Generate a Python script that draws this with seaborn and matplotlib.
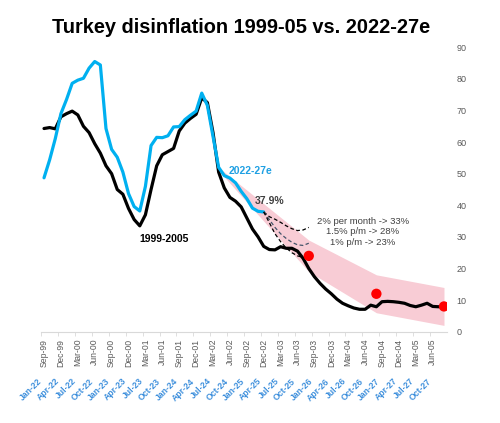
import numpy as np
import pandas as pd
import matplotlib
matplotlib.use("Agg")
import matplotlib.pyplot as plt
import matplotlib.transforms as mtransforms
import seaborn as sns

# month index 0 = Sep-99 (black) and Jan-22 (blue)
old_labels = ["Sep-99", "Dec-99", "Mar-00", "Jun-00", "Sep-00", "Dec-00", "Mar-01", "Jun-01",
              "Sep-01", "Dec-01", "Mar-02", "Jun-02", "Sep-02", "Dec-02", "Mar-03", "Jun-03",
              "Sep-03", "Dec-03", "Mar-04", "Jun-04", "Sep-04", "Dec-04", "Mar-05", "Jun-05"]
new_labels = ["Jan-22", "Apr-22", "Jul-22", "Oct-22", "Jan-23", "Apr-23", "Jul-23", "Oct-23",
              "Jan-24", "Apr-24", "Jul-24", "Oct-24", "Jan-25", "Apr-25", "Jul-25", "Oct-25",
              "Jan-26", "Apr-26", "Jul-26", "Oct-26", "Jan-27", "Apr-27", "Jul-27", "Oct-27"]

cpi_1999_05 = [64.3, 64.6, 64.2, 68.0, 69.0, 69.8, 68.6, 65.0, 63.0, 59.5, 56.5, 52.5,
               50.0, 45.0, 43.5, 39.0, 35.5, 33.5, 37.0, 45.0, 52.5, 56.0, 57.0, 58.0,
               63.5, 66.0, 67.5, 68.8, 74.0, 72.5, 63.0, 50.5, 45.5, 42.5, 41.3, 39.5,
               36.0, 32.5, 30.0, 27.0, 26.0, 25.9, 26.9, 26.4, 26.4, 25.5, 23.2, 20.0,
               17.4, 15.3, 13.5, 12.0, 10.3, 9.0, 8.2, 7.5, 7.1, 7.1, 8.4, 7.9,
               9.5, 9.6, 9.5, 9.3, 9.0, 8.3, 7.9, 8.4, 9.0, 8.0, 7.9, 7.9]

cpi_2022_25 = [48.7, 54.4, 61.1, 69.0, 73.5, 78.6, 79.6, 80.2, 83.4, 85.5, 84.4, 64.3,
               57.7, 55.2, 50.5, 43.7, 39.6, 38.2, 46.0, 58.9, 61.5, 61.4, 62.0, 64.8,
               64.9, 67.1, 68.5, 69.8, 75.5, 71.6, 61.8, 52.0, 49.4, 48.6, 47.1, 44.4,
               42.1, 39.1, 38.1, 37.9]

# scenarios Apr-25 -> Dec-25
scen_2pct = [37.9, 36.4, 35.6, 34.6, 33.5, 32.6, 32.0, 32.2, 33.0]
scen_15pct = [37.9, 35.5, 33.0, 31.0, 29.5, 28.3, 27.5, 27.3, 28.0]
scen_1pct = [37.9, 34.5, 31.0, 28.5, 26.5, 25.0, 24.0, 23.5, 23.0]

# forecast band and targets (Dec-25, Dec-26, Dec-27)
band_idx = [31, 47, 59, 71]
band_hi = [52, 29, 18, 14]
band_lo = [51, 19, 6, 2]
target_idx = [47, 59, 71]
target_val = [24, 12, 8]

BLUE = "#00b0f0"
GREY = "#595959"

sns.set_style("white")
plt.rcParams["font.family"] = ["Liberation Sans", "DejaVu Sans"]

fig = plt.figure(figsize=(5, 4.23), dpi=100)
ax = fig.add_axes([0.0824, 0.2158, 0.8112, 0.6724])

ax.fill_between(band_idx, band_lo, band_hi, color="#f8ccd5", lw=0, zorder=1)

old = pd.DataFrame({"m": range(len(cpi_1999_05)), "v": cpi_1999_05})
new = pd.DataFrame({"m": range(len(cpi_2022_25)), "v": cpi_2022_25})
sns.lineplot(data=old, x="m", y="v", color="black", lw=2.3, ax=ax, zorder=3)
sns.lineplot(data=new, x="m", y="v", color=BLUE, lw=2.3, ax=ax, zorder=4)

s_idx = list(range(39, 39 + len(scen_2pct)))
for vals, col in [(scen_2pct, "black"), (scen_15pct, "#44546a"), (scen_1pct, "black")]:
    ax.plot(s_idx, vals, color=col, lw=0.9, ls=(0, (3, 2)), zorder=5)

sns.scatterplot(x=target_idx, y=target_val, color="#ff0000", s=55, edgecolor="none",
                ax=ax, zorder=6)

ax.set_xlim(-0.5, 71.5)
ax.set_ylim(0, 90)
ax.set_xlabel("")
ax.set_ylabel("")
for s in ["top", "left", "right"]:
    ax.spines[s].set_visible(False)
ax.spines["bottom"].set_color("#d9d9d9")

ax.yaxis.tick_right()
ax.set_yticks(range(0, 91, 10))
ax.tick_params(axis="y", length=0, pad=7, labelsize=6.5, labelcolor=GREY)

tick_pos = list(range(0, 72, 3))
ax.set_xticks(tick_pos)
ax.set_xticklabels(old_labels, rotation=90, fontsize=6.2, color=GREY)
ax.set_xticks([p - 0.5 for p in tick_pos], minor=True)
ax.tick_params(axis="x", which="major", length=0, pad=5)
ax.tick_params(axis="x", which="minor", length=3, color="#d9d9d9", bottom=True)

trans = mtransforms.blended_transform_factory(ax.transData, ax.transAxes)
for p, lab in zip(tick_pos, new_labels):
    ax.text(p, -0.158, lab, transform=trans, rotation=45, ha="right", va="top",
            fontsize=6.2, fontweight="bold", color="#3d8fdc")

fig.text(0.482, 0.936, "Turkey disinflation 1999-05 vs. 2022-27e", ha="center",
         va="center", fontsize=14.4, fontweight="bold", color="black")

ax.text(21.3, 29.3, "1999-2005", ha="center", va="center", fontsize=7.5,
        fontweight="bold", color="black")
ax.text(36.7, 50.8, "2022-27e", ha="center", va="center", fontsize=7.5,
        fontweight="bold", color="#1fa0e3")
ax.text(40.1, 41.3, "37.9%", ha="center", va="center", fontsize=7.5,
        fontweight="bold", color="#404040")
ax.text(56.6, 31.6, "2% per month -> 33%\n1.5% p/m -> 28%\n1% p/m -> 23%",
        ha="center", va="center", fontsize=6.8, color="#404040", linespacing=1.25)

fig.savefig("out.png", dpi=100)
